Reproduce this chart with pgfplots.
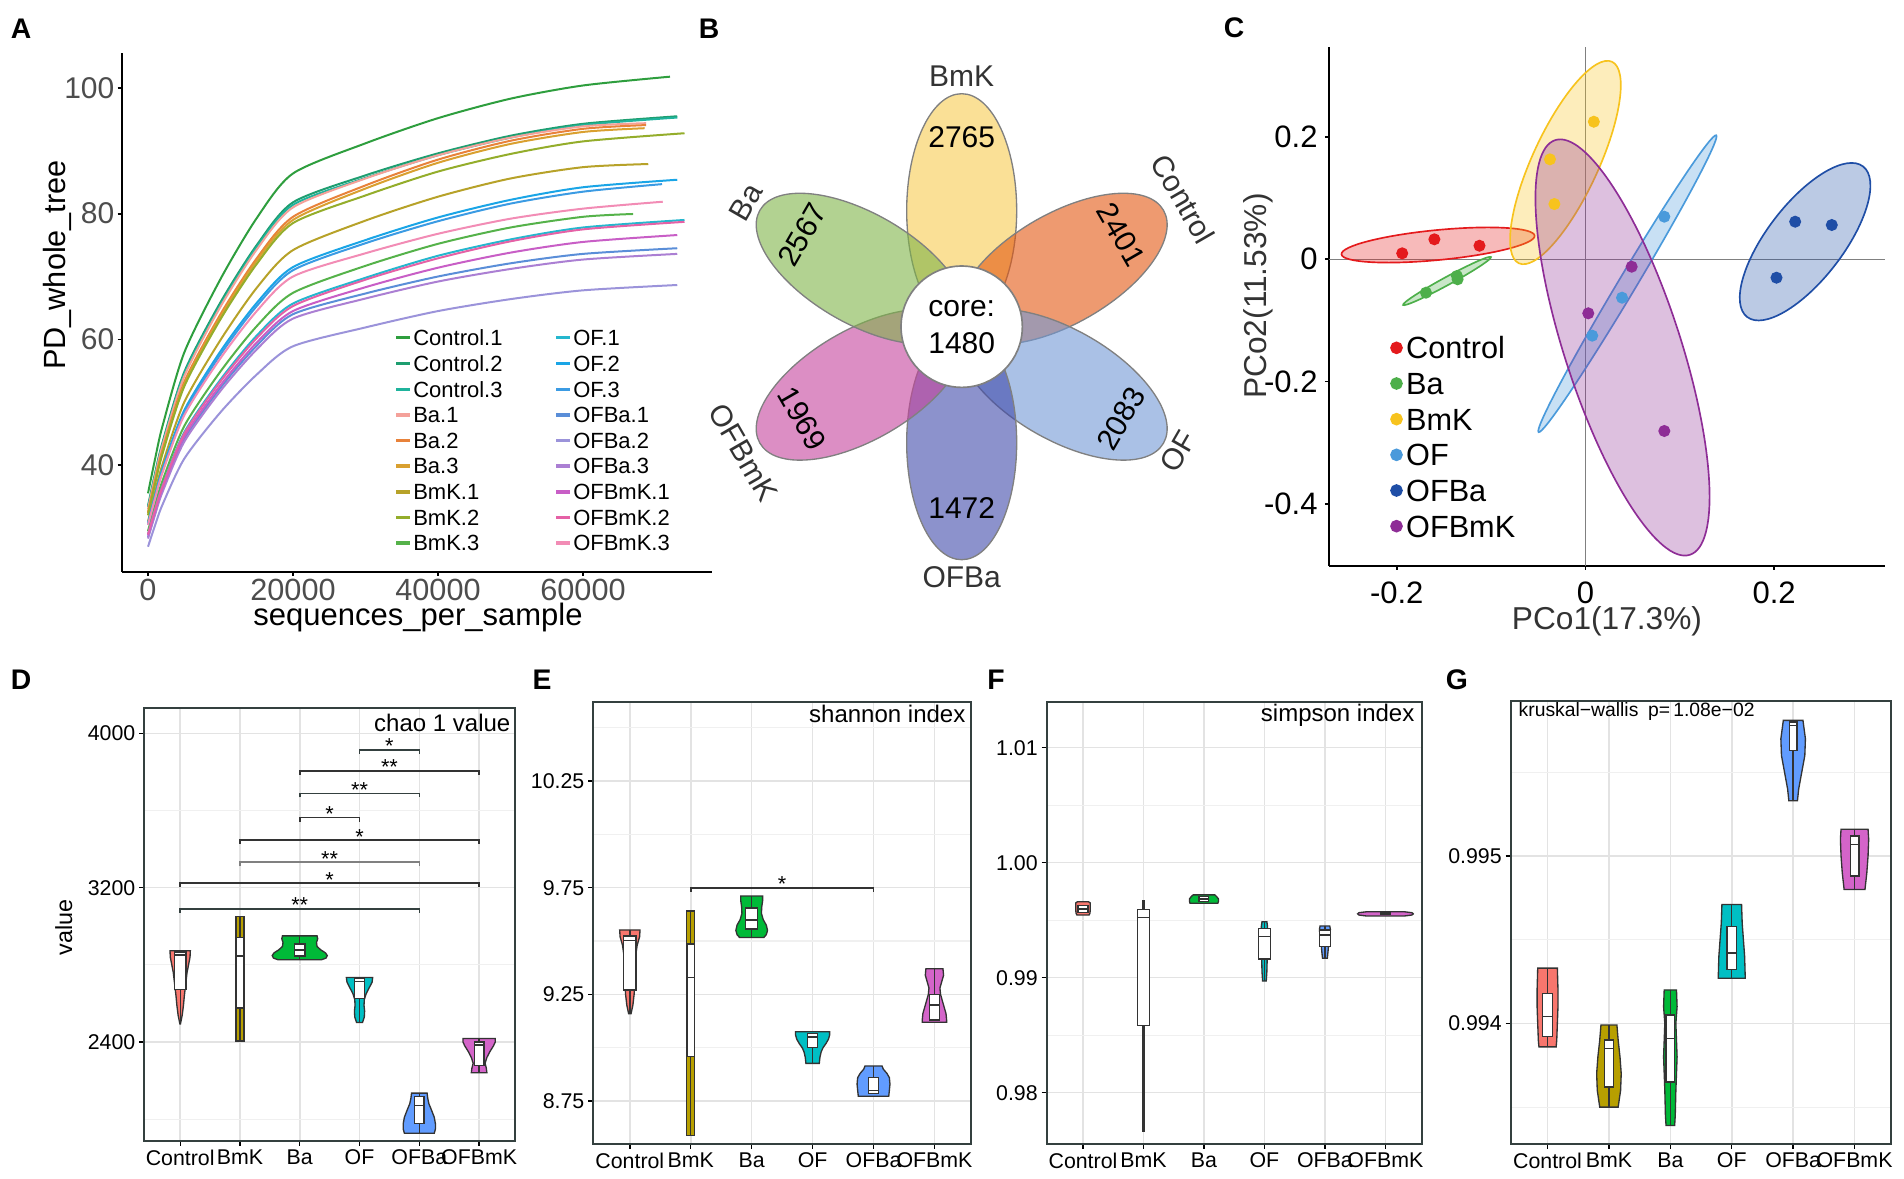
\documentclass[border=0pt]{standalone}
\usepackage{fontspec}
\setmainfont{Liberation Sans}
\usepackage{pgfplots}
\pgfplotsset{compat=1.18}
\newcommand\myfs[1]{\fontsize{#1}{#1}\selectfont}
% curve colours (panel A)
\definecolor{a1}{HTML}{2E9E3E}\definecolor{a2}{HTML}{1E9E70}\definecolor{a3}{HTML}{1FB39C}
\definecolor{a4}{HTML}{F4A19A}\definecolor{a5}{HTML}{E8823A}\definecolor{a6}{HTML}{D9A030}
\definecolor{a7}{HTML}{B7A229}\definecolor{a8}{HTML}{94AD2B}\definecolor{a9}{HTML}{55B24A}
\definecolor{a10}{HTML}{25B7CE}\definecolor{a11}{HTML}{1AA5E6}\definecolor{a12}{HTML}{3B9BE3}
\definecolor{a13}{HTML}{5A8ED8}\definecolor{a14}{HTML}{9B93DA}\definecolor{a15}{HTML}{AB7FD3}
\definecolor{a16}{HTML}{C85EC6}\definecolor{a17}{HTML}{E561A6}\definecolor{a18}{HTML}{F28CB5}
\definecolor{tickgray}{HTML}{4D4D4D}
% petals
\definecolor{pBmK}{HTML}{F7CB50}\definecolor{pCon}{HTML}{E35711}\definecolor{pOF}{HTML}{7198D5}
\definecolor{pOFBa}{HTML}{3F49AA}\definecolor{pOFBmK}{HTML}{C5439D}\definecolor{pBa}{HTML}{7FB448}
% PCoA
\definecolor{cCon}{HTML}{E41A1C}\definecolor{cBa}{HTML}{4DAF4A}\definecolor{cBmK}{HTML}{F7C31E}
\definecolor{cOF}{HTML}{4A9ADB}\definecolor{cOFBa}{HTML}{1F4EA6}\definecolor{cOFBmK}{HTML}{8E2D96}
% violins
\definecolor{vC}{HTML}{F8766D}\definecolor{vB}{HTML}{B79F00}\definecolor{vBa}{HTML}{00BA38}
\definecolor{vO}{HTML}{00BFC4}\definecolor{vOB}{HTML}{619CFF}\definecolor{vOM}{HTML}{D464C9}
\definecolor{frame}{HTML}{34403F}\definecolor{gmaj}{HTML}{E3E3E3}\definecolor{gmin}{HTML}{F0F0F0}
\definecolor{vline}{HTML}{333333}
\pgfplotsset{
  rc/.style={line width=0.6pt, smooth, tension=0.45, color=#1},
  vio/.style={anchor=south west, scale only axis, xmin=-0.6, xmax=5.6,
    xtick={0,1,2,3,4,5}, xticklabels={Control,BmK,Ba,OF,OFBa,OFBmK},
    tick pos=left, tick align=outside, major tick length=1.5pt, minor tick length=0pt,
    tick style={line width=0.4pt, color=black},
    axis line style={draw=frame, line width=0.55pt},
    xmajorgrids, ymajorgrids, yminorgrids,
    major grid style={draw=gmaj, line width=0.45pt}, minor grid style={draw=gmin, line width=0.35pt},
    tick label style={font=\myfs{6.4}, inner sep=1pt}, clip=false},
  vl/.style={draw=vline, line width=0.4pt, fill=#1},
  bx/.style={draw=vline, line width=0.4pt, fill=white},
  ln/.style={draw=vline, line width=0.4pt},
  brk/.style={draw=#1, line width=0.45pt},
  zl/.style={draw=gray, line width=0.45pt, forget plot},
  ptl/.style={only marks, mark=*, mark size=1.6pt, color=#1, legend image code/.code={\fill[##1] (-0.8pt,0pt) circle[radius=1.7pt];}},
}
\tikzset{star/.style={anchor=base, font=\myfs{6.5}, inner sep=0pt, yshift=-1.2pt}}
\begin{document}
\begin{tikzpicture}
\useasboundingbox (0,0) rectangle (571.2pt,353.7pt);
% ================= A =================
\begin{axis}[
  at={(36.51pt,182.1pt)}, anchor=south west, scale only axis,
  width=177pt, height=155.7pt,
  xmin=-3628, xmax=77752, ymin=22.98, ymax=105.57,
  axis x line*=bottom, axis y line*=left,
  axis line style={black, line width=0.6pt},
  scaled ticks=false,
  xtick={0,20000,40000,60000}, xticklabels={0,20000,40000,60000},
  ytick={40,60,80,100}, yticklabels={40,60,80,100},
  tick align=outside, major tick length=1.2pt, tick style={black, line width=0.5pt},
  tick label style={text=tickgray},
  xticklabel style={font=\myfs{9.2}, yshift=2.5pt},
  yticklabel style={font=\myfs{9}, inner sep=0.8pt},
  legend columns=9, transpose legend, legend cell align=left,
  legend style={at={(0.4615,0.4714)}, anchor=north west, draw=none, fill=none, inner sep=0pt,
    font=\myfs{6.6}, row sep=1.8pt, nodes={inner sep=0.6pt, text height=4.7pt, text depth=0pt},
    /tikz/every even column/.append style={column sep=15pt}},
  legend image code/.code={\draw[#1, line width=1pt] (0pt,0pt) -- (4pt,0pt);},
]
\addplot[rc=a1] coordinates {(0,35.5) (1000,41.1) (2000,46.2) (5000,57.9) (10000,69.6) (15000,79.3) (20000,86.4) (30000,91.2) (40000,95.2) (50000,98.3) (60000,100.4) (72000,101.8)};
\addlegendentry{Control.1}
\addplot[rc=a2] coordinates {(0,33.5) (1000,38.8) (2000,43.6) (5000,54.8) (10000,65.9) (15000,75.0) (20000,81.8) (30000,86.1) (40000,89.6) (50000,92.4) (60000,94.3) (73000,95.5)};
\addlegendentry{Control.2}
\addplot[rc=a3] coordinates {(0,33.3) (1000,38.6) (2000,43.4) (5000,54.5) (10000,65.5) (15000,74.7) (20000,81.4) (30000,85.7) (40000,89.3) (50000,92.1) (60000,94.1) (73000,95.3)};
\addlegendentry{Control.3}
\addplot[rc=a4] coordinates {(0,33.0) (1000,38.3) (2000,43.1) (5000,54.1) (10000,65.2) (15000,74.3) (20000,81.0) (30000,85.6) (40000,89.3) (50000,92.1) (60000,93.9) (68700,94.4)};
\addlegendentry{Ba.1}
\addplot[rc=a5] coordinates {(0,32.5) (1000,37.7) (2000,42.4) (5000,53.2) (10000,64.0) (15000,72.9) (20000,79.5) (30000,84.5) (40000,88.6) (50000,91.6) (60000,93.5) (68700,94.1)};
\addlegendentry{Ba.2}
\addplot[rc=a6] coordinates {(0,32.3) (1000,37.4) (2000,42.1) (5000,52.8) (10000,63.6) (15000,72.5) (20000,79.0) (30000,84.0) (40000,88.1) (50000,91.1) (60000,93.0) (68500,93.6)};
\addlegendentry{Ba.3}
\addplot[rc=a7] coordinates {(0,31.0) (1000,35.8) (2000,40.1) (5000,50.0) (10000,59.9) (15000,68.2) (20000,74.2) (30000,78.9) (40000,82.7) (50000,85.6) (60000,87.4) (69000,87.9)};
\addlegendentry{BmK.1}
\addplot[rc=a8] coordinates {(0,32.0) (1000,37.1) (2000,41.8) (5000,52.5) (10000,63.2) (15000,72.0) (20000,78.5) (30000,82.9) (40000,86.7) (50000,89.5) (60000,91.5) (74000,92.8)};
\addlegendentry{BmK.2}
\addplot[rc=a9] coordinates {(0,29.5) (1000,33.7) (2000,37.5) (5000,46.2) (10000,54.9) (15000,62.1) (20000,67.4) (30000,71.7) (40000,75.2) (50000,77.8) (60000,79.5) (66900,79.95)};
\addlegendentry{BmK.3}
\addplot[rc=a10] coordinates {(0,29.0) (1000,33.0) (2000,36.7) (5000,45.2) (10000,53.6) (15000,60.6) (20000,65.7) (30000,69.8) (40000,73.3) (50000,75.9) (60000,77.8) (74000,79.0)};
\addlegendentry{OF.1}
\addplot[rc=a11] coordinates {(0,30.8) (1000,35.3) (2000,39.4) (5000,48.7) (10000,58.1) (15000,65.8) (20000,71.5) (30000,75.8) (40000,79.4) (50000,82.2) (60000,84.2) (73000,85.4)};
\addlegendentry{OF.2}
\addplot[rc=a12] coordinates {(0,30.5) (1000,35.0) (2000,39.0) (5000,48.3) (10000,57.6) (15000,65.3) (20000,71.0) (30000,75.3) (40000,78.8) (50000,81.6) (60000,83.5) (70900,84.7)};
\addlegendentry{OF.3}
\addplot[rc=a13] coordinates {(0,28.5) (1000,32.4) (2000,36.0) (5000,44.1) (10000,52.3) (15000,59.0) (20000,64.0) (30000,67.3) (40000,70.0) (50000,72.1) (60000,73.6) (73000,74.5)};
\addlegendentry{OFBa.1}
\addplot[rc=a14] coordinates {(0,27.0) (1000,30.5) (2000,33.7) (5000,41.0) (10000,48.4) (15000,54.4) (20000,58.9) (30000,61.9) (40000,64.5) (50000,66.4) (60000,67.8) (73000,68.65)};
\addlegendentry{OFBa.2}
\addplot[rc=a15] coordinates {(0,28.3) (1000,32.2) (2000,35.7) (5000,43.7) (10000,51.8) (15000,58.4) (20000,63.3) (30000,66.5) (40000,69.2) (50000,71.2) (60000,72.7) (73000,73.6)};
\addlegendentry{OFBa.3}
\addplot[rc=a16] coordinates {(0,28.8) (1000,32.7) (2000,36.3) (5000,44.5) (10000,52.7) (15000,59.5) (20000,64.5) (30000,68.3) (40000,71.4) (50000,73.8) (60000,75.5) (73000,76.6)};
\addlegendentry{OFBmK.1}
\addplot[rc=a17] coordinates {(0,29.0) (1000,33.0) (2000,36.6) (5000,45.0) (10000,53.3) (15000,60.2) (20000,65.3) (30000,69.5) (40000,72.9) (50000,75.6) (60000,77.5) (74000,78.7)};
\addlegendentry{OFBmK.2}
\addplot[rc=a18] coordinates {(0,30.5) (1000,34.8) (2000,38.8) (5000,47.9) (10000,57.0) (15000,64.5) (20000,70.0) (30000,73.7) (40000,76.8) (50000,79.2) (60000,80.8) (71000,81.9)};
\addlegendentry{OFBmK.3}
\end{axis}
\node[rotate=90, anchor=base, font=\myfs{9.2}] at (19.5pt,274.2pt) {PD\_whole\_tree};
\node[anchor=base, font=\myfs{9.3}] at (125.4pt,165.9pt) {sequences\_per\_sample};
% ================= B =================
\begin{axis}[at={(204.51pt,165.69pt)}, anchor=south west, scale only axis, width=168pt, height=180pt,
  xmin=-280, xmax=280, ymin=-300, ymax=300, hide axis, xtick=\empty, ytick=\empty, clip=false]
\filldraw[fill=pBmK, fill opacity=0.6, draw=gray, line width=0.4pt, rotate around={90:(axis cs:0,0)}] (axis cs:116,0) ellipse [x radius=35.1pt, y radius=16.5pt];
\filldraw[fill=pCon, fill opacity=0.6, draw=gray, line width=0.4pt, rotate around={30:(axis cs:0,0)}] (axis cs:116,0) ellipse [x radius=35.1pt, y radius=16.5pt];
\filldraw[fill=pOF, fill opacity=0.6, draw=gray, line width=0.4pt, rotate around={-30:(axis cs:0,0)}] (axis cs:116,0) ellipse [x radius=35.1pt, y radius=16.5pt];
\filldraw[fill=pOFBa, fill opacity=0.6, draw=gray, line width=0.4pt, rotate around={-90:(axis cs:0,0)}] (axis cs:116,0) ellipse [x radius=35.1pt, y radius=16.5pt];
\filldraw[fill=pOFBmK, fill opacity=0.6, draw=gray, line width=0.4pt, rotate around={210:(axis cs:0,0)}] (axis cs:116,0) ellipse [x radius=35.1pt, y radius=16.5pt];
\filldraw[fill=pBa, fill opacity=0.6, draw=gray, line width=0.4pt, rotate around={150:(axis cs:0,0)}] (axis cs:116,0) ellipse [x radius=35.1pt, y radius=16.5pt];
\filldraw[fill=white, draw=gray, line width=0.5pt] (axis cs:0,0) circle [radius=18.2pt];
\node[font=\myfs{9}] at (axis cs:0,18) {core:};
\node[font=\myfs{9}] at (axis cs:0,-16) {1480};
\node[font=\myfs{9}] at (axis cs:0,190) {2765};
\node[font=\myfs{9}, rotate=-60] at (axis cs:159.3,92) {2401};
\node[font=\myfs{9}, rotate=60] at (axis cs:159.3,-92) {2083};
\node[font=\myfs{9}] at (axis cs:0,-181) {1472};
\node[font=\myfs{9}, rotate=-60] at (axis cs:-159.3,-92) {1969};
\node[font=\myfs{9}, rotate=60] at (axis cs:-159.3,92) {2567};
\node[font=\myfs{9}, text=vline] at (axis cs:0,251) {BmK};
\node[font=\myfs{9}, text=vline, rotate=-60] at (axis cs:221.7,128) {Control};
\node[font=\myfs{9}, text=vline, rotate=60] at (axis cs:216.5,-125) {OF};
\node[font=\myfs{9}, text=vline] at (axis cs:0,-250) {OFBa};
\node[font=\myfs{9}, text=vline, rotate=-60] at (axis cs:-218.2,-126) {OFBmK};
\node[font=\myfs{9}, text=vline, rotate=60] at (axis cs:-215.6,124.5) {Ba};
\end{axis}
% ================= C =================
\begin{axis}[at={(398.67pt,183.9pt)}, anchor=south west, scale only axis, width=166.83pt, height=155.79pt,
  xmin=-0.2719, xmax=0.3175, ymin=-0.5016, ymax=0.3477,
  axis x line*=bottom, axis y line*=left, axis line style={black, line width=0.6pt},
  xtick={-0.2,0,0.2}, xticklabels={-0.2,0,0.2}, ytick={-0.4,-0.2,0,0.2}, yticklabels={-0.4,-0.2,0,0.2},
  tick align=outside, major tick length=1.2pt, tick style={black, line width=0.5pt},
  tick label style={font=\myfs{9.3}}, yticklabel style={inner sep=2pt}, clip=false,
  legend cell align=left,
  legend style={at={(0.109,0.449)}, anchor=north west, draw=none, fill=none, inner sep=0pt,
    font=\myfs{9.2}, row sep=2.1pt, nodes={inner sep=1pt, text height=6.6pt, text depth=0pt}},
]
\addplot[zl] coordinates {(-0.2719,0) (0.3175,0)};
\addplot[zl] coordinates {(0,-0.5016) (0,0.3477)};
\filldraw[draw=cCon, fill=cCon, fill opacity=0.3, line width=0.5pt, rotate around={5.5:(axis cs:-0.1562,0.0234)}] (axis cs:-0.1562,0.0234) ellipse [x radius=29.1pt, y radius=4.5pt];
\filldraw[draw=cBa, fill=cBa, fill opacity=0.3, line width=0.5pt, rotate around={28.6:(axis cs:-0.1467,-0.0355)}] (axis cs:-0.1467,-0.0355) ellipse [x radius=15pt, y radius=1.2pt];
\filldraw[draw=cBmK, fill=cBmK, fill opacity=0.3, line width=0.5pt, rotate around={65.2:(axis cs:-0.0212,0.1583)}] (axis cs:-0.0212,0.1583) ellipse [x radius=33.3pt, y radius=9.9pt];
\filldraw[draw=cOF, fill=cOF, fill opacity=0.3, line width=0.5pt, rotate around={59.1:(axis cs:0.0445,-0.0399)}] (axis cs:0.0445,-0.0399) ellipse [x radius=51.9pt, y radius=2.7pt];
\filldraw[draw=cOFBa, fill=cOFBa, fill opacity=0.3, line width=0.5pt, rotate around={52.4:(axis cs:0.2328,0.0288)}] (axis cs:0.2328,0.0288) ellipse [x radius=28.5pt, y radius=11.4pt];
\filldraw[draw=cOFBmK, fill=cOFBmK, fill opacity=0.3, line width=0.5pt, rotate around={108:(axis cs:0.0393,-0.1442)}] (axis cs:0.0393,-0.1442) ellipse [x radius=65.4pt, y radius=17.4pt];
\addplot[ptl=cCon] coordinates {(-0.1942,0.0098) (-0.1601,0.0327) (-0.1123,0.0222)};
\addlegendentry{Control}
\addplot[ptl=cBa] coordinates {(-0.169,-0.0546) (-0.1362,-0.0273) (-0.1355,-0.0327)};
\addlegendentry{Ba}
\addplot[ptl=cBmK] coordinates {(0.0089,0.225) (-0.0376,0.1635) (-0.0329,0.0904)};
\addlegendentry{BmK}
\addplot[ptl=cOF] coordinates {(0.0836,0.0697) (0.0388,-0.0628) (0.0072,-0.1249)};
\addlegendentry{OF}
\addplot[ptl=cOFBa] coordinates {(0.2223,0.0615) (0.2611,0.0561) (0.2025,-0.0301)};
\addlegendentry{OFBa}
\addplot[ptl=cOFBmK] coordinates {(0.049,-0.0121) (0.003,-0.0883) (0.0836,-0.2808)};
\addlegendentry{OFBmK}
\end{axis}
\node[rotate=90, anchor=base, font=\myfs{9.5}, text=vline] at (380pt,264.9pt) {PCo2(11.53\%)};
\node[anchor=base, font=\myfs{9.5}, text=vline] at (482.1pt,164.7pt) {PCo1(17.3\%)};
% ================= D =================
\begin{axis}[vio, at={(43.29pt,11.4pt)}, width=111.21pt, height=129.81pt, ymin=1887, ymax=4129.6,
  ytick={2400,3200,4000}, yticklabels={2400,3200,4000}, minor ytick={2000,2800,3600}]
\addplot[vl=vC] coordinates {(0.17,2873) (0.165,2840) (0.14,2800) (0.115,2760) (0.1,2720) (0.085,2680) (0.07,2640) (0.055,2590) (0.035,2540) (0.005,2494) (-0.005,2494) (-0.035,2540) (-0.055,2590) (-0.07,2640) (-0.085,2680) (-0.1,2720) (-0.115,2760) (-0.14,2800) (-0.165,2840) (-0.17,2873)} -- cycle;
\addplot[vl=vB] coordinates {(1.065,3049) (1.065,2406) (0.935,2406) (0.935,3049)} -- cycle;
\addplot[vl=vBa] coordinates {(2.29,2950) (2.3,2935) (2.28,2915) (2.29,2895) (2.35,2878) (2.43,2862) (2.46,2848) (2.44,2835) (2.36,2826) (1.64,2826) (1.56,2835) (1.54,2848) (1.57,2862) (1.65,2878) (1.71,2895) (1.72,2915) (1.7,2935) (1.71,2950)} -- cycle;
\addplot[vl=vO] coordinates {(3.22,2734) (3.21,2710) (3.16,2680) (3.11,2650) (3.08,2620) (3.075,2590) (3.085,2560) (3.08,2530) (3.05,2501) (2.95,2501) (2.92,2530) (2.915,2560) (2.925,2590) (2.92,2620) (2.89,2650) (2.84,2680) (2.79,2710) (2.78,2734)} -- cycle;
\addplot[vl=vOB] coordinates {(4.13,2135) (4.14,2110) (4.16,2080) (4.2,2050) (4.25,2010) (4.27,1975) (4.27,1950) (4.25,1927) (3.75,1927) (3.73,1950) (3.73,1975) (3.75,2010) (3.8,2050) (3.84,2080) (3.86,2110) (3.87,2135)} -- cycle;
\addplot[vl=vOM] coordinates {(5.27,2418) (5.27,2400) (5.24,2380) (5.18,2350) (5.13,2320) (5.1,2290) (5.12,2265) (5.13,2241) (4.87,2241) (4.88,2265) (4.9,2290) (4.87,2320) (4.82,2350) (4.76,2380) (4.73,2400) (4.73,2418)} -- cycle;
% boxes
\addplot[bx] coordinates {(-0.1,2671) (0.1,2671) (0.1,2866) (-0.1,2866)} -- cycle;
\addplot[ln] coordinates {(-0.1,2851) (0.1,2851)};
\addplot[ln] coordinates {(0,2866) (0,2873)};\addplot[ln] coordinates {(0,2671) (0,2494)};
\addplot[bx] coordinates {(0.94,2577) (1.06,2577) (1.06,2943) (0.94,2943)} -- cycle;
\addplot[ln] coordinates {(0.94,2846) (1.06,2846)};
\addplot[ln] coordinates {(1,2943) (1,3049)};\addplot[ln] coordinates {(1,2577) (1,2406)};
\addplot[ln] coordinates {(2,2950) (2,2826)};
\addplot[bx] coordinates {(1.91,2846) (2.09,2846) (2.09,2908) (1.91,2908)} -- cycle;
\addplot[ln] coordinates {(1.91,2877) (2.09,2877)};
\addplot[bx] coordinates {(2.92,2627) (3.08,2627) (3.08,2728) (2.92,2728)} -- cycle;
\addplot[ln] coordinates {(2.92,2715) (3.08,2715)};
\addplot[ln] coordinates {(3,2728) (3,2734)};\addplot[ln] coordinates {(3,2627) (3,2501)};
\addplot[bx] coordinates {(3.92,1978) (4.08,1978) (4.08,2116) (3.92,2116)} -- cycle;
\addplot[ln] coordinates {(3.92,2072) (4.08,2072)};
\addplot[ln] coordinates {(4,2116) (4,2135)};\addplot[ln] coordinates {(4,1978) (4,1927)};
\addplot[bx] coordinates {(4.92,2280) (5.08,2280) (5.08,2400) (4.92,2400)} -- cycle;
\addplot[ln] coordinates {(4.92,2385) (5.08,2385)};
\addplot[ln] coordinates {(5,2400) (5,2418)};\addplot[ln] coordinates {(5,2280) (5,2241)};
% significance brackets
\addplot[brk=frame] coordinates {(3,3893.3) (3,3914) (4,3914) (4,3893.3)};
\addplot[brk=vline] coordinates {(2,3784.3) (2,3805) (5,3805) (5,3784.3)};
\addplot[brk=frame] coordinates {(2,3668.3) (2,3689) (4,3689) (4,3668.3)};
\addplot[brk=vline] coordinates {(2,3542.3) (2,3563) (3,3563) (3,3542.3)};
\addplot[brk=vline] coordinates {(1,3426.3) (1,3447) (5,3447) (5,3426.3)};
\addplot[brk=gray] coordinates {(1,3311.3) (1,3332) (4,3332) (4,3311.3)};
\addplot[brk=vline] coordinates {(0,3202.3) (0,3223) (5,3223) (5,3202.3)};
\addplot[brk=frame] coordinates {(0,3069.3) (0,3090) (4,3090) (4,3069.3)};
\node[star] at (axis cs:3.5,3914) {*};
\node[star] at (axis cs:3.5,3805) {**};
\node[star] at (axis cs:3,3689) {**};
\node[star] at (axis cs:2.5,3563) {*};
\node[star] at (axis cs:3,3447) {*};
\node[star] at (axis cs:2.5,3332) {**};
\node[star] at (axis cs:2.5,3223) {*};
\node[star] at (axis cs:2,3090) {**};
\end{axis}
\node[rotate=90, anchor=base, font=\myfs{7}] at (21.6pt,75.45pt) {value};
\node[anchor=east, font=\myfs{7.2}, inner sep=0pt] at (153.3pt,136.89pt) {chao 1 value};
% ================= E =================
\begin{axis}[vio, at={(177.99pt,10.62pt)}, width=113.31pt, height=132.39pt, ymin=8.551, ymax=10.619,
  ytick={8.75,9.25,9.75,10.25}, yticklabels={8.75,9.25,9.75,10.25}, minor ytick={9,9.5,10,10.5}]
\addplot[vl=vC] coordinates {(0.167,9.552) (0.16,9.52) (0.12,9.48) (0.1,9.44) (0.09,9.4) (0.085,9.35) (0.08,9.3) (0.07,9.25) (0.05,9.2) (0.02,9.16) (-0.02,9.16) (-0.05,9.2) (-0.07,9.25) (-0.08,9.3) (-0.085,9.35) (-0.09,9.4) (-0.1,9.44) (-0.12,9.48) (-0.16,9.52) (-0.167,9.552)} -- cycle;
\addplot[vl=vB] coordinates {(1.065,9.641) (1.065,8.59) (0.935,8.59) (0.935,9.641)} -- cycle;
\addplot[vl=vBa] coordinates {(2.18,9.711) (2.18,9.69) (2.165,9.66) (2.16,9.63) (2.19,9.6) (2.24,9.575) (2.26,9.55) (2.24,9.53) (2.2,9.517) (1.8,9.517) (1.76,9.53) (1.74,9.55) (1.76,9.575) (1.81,9.6) (1.84,9.63) (1.835,9.66) (1.82,9.69) (1.82,9.711)} -- cycle;
\addplot[vl=vO] coordinates {(3.28,9.075) (3.28,9.06) (3.26,9.04) (3.22,9.02) (3.17,9.0) (3.14,8.98) (3.12,8.955) (3.11,8.927) (2.89,8.927) (2.88,8.955) (2.86,8.98) (2.83,9.0) (2.78,9.02) (2.74,9.04) (2.72,9.06) (2.72,9.075)} -- cycle;
\addplot[vl=vOB] coordinates {(4.14,8.915) (4.16,8.9) (4.22,8.88) (4.26,8.86) (4.27,8.83) (4.26,8.8) (4.25,8.773) (3.75,8.773) (3.74,8.8) (3.73,8.83) (3.74,8.86) (3.78,8.88) (3.84,8.9) (3.86,8.915)} -- cycle;
\addplot[vl=vOM] coordinates {(5.14,9.37) (5.15,9.34) (5.12,9.31) (5.09,9.28) (5.1,9.25) (5.15,9.2) (5.19,9.16) (5.2,9.13) (5.2,9.12) (4.8,9.12) (4.8,9.13) (4.81,9.16) (4.85,9.2) (4.9,9.25) (4.91,9.28) (4.88,9.31) (4.85,9.34) (4.86,9.37)} -- cycle;
\addplot[bx] coordinates {(-0.1,9.27) (0.1,9.27) (0.1,9.524) (-0.1,9.524)} -- cycle;
\addplot[ln] coordinates {(-0.1,9.502) (0.1,9.502)};
\addplot[ln] coordinates {(0,9.524) (0,9.552)};\addplot[ln] coordinates {(0,9.27) (0,9.16)};
\addplot[bx] coordinates {(0.94,8.96) (1.06,8.96) (1.06,9.486) (0.94,9.486)} -- cycle;
\addplot[ln] coordinates {(0.94,9.33) (1.06,9.33)};
\addplot[ln] coordinates {(1,9.486) (1,9.641)};\addplot[ln] coordinates {(1,8.96) (1,8.59)};
\addplot[ln] coordinates {(2,9.711) (2,9.517)};
\addplot[bx] coordinates {(1.9,9.556) (2.1,9.556) (2.1,9.655) (1.9,9.655)} -- cycle;
\addplot[ln] coordinates {(1.9,9.599) (2.1,9.599)};
\addplot[bx] coordinates {(2.92,9.0) (3.08,9.0) (3.08,9.068) (2.92,9.068)} -- cycle;
\addplot[ln] coordinates {(2.92,9.05) (3.08,9.05)};
\addplot[ln] coordinates {(3,9.0) (3,8.927)};
\addplot[bx] coordinates {(3.92,8.785) (4.08,8.785) (4.08,8.86) (3.92,8.86)} -- cycle;
\addplot[ln] coordinates {(3.92,8.8) (4.08,8.8)};
\addplot[ln] coordinates {(4,8.86) (4,8.915)};
\addplot[bx] coordinates {(4.92,9.13) (5.08,9.13) (5.08,9.25) (4.92,9.25)} -- cycle;
\addplot[ln] coordinates {(4.92,9.2) (5.08,9.2)};
\addplot[ln] coordinates {(5,9.25) (5,9.37)};
\addplot[brk=vline] coordinates {(1,9.7303) (1,9.749) (4,9.749) (4,9.7303)};
\node[star] at (axis cs:2.5,9.749) {*};
\end{axis}
\node[anchor=east, font=\myfs{7.2}, inner sep=0pt] at (289.8pt,139.5pt) {shannon index};
% ================= F =================
\begin{axis}[vio, at={(314.01pt,10.62pt)}, width=112.5pt, height=132.39pt, ymin=0.97557, ymax=1.01395,
  ytick={0.98,0.99,1.00,1.01}, yticklabels={0.98,0.99,1.00,1.01}, minor ytick={0.985,0.995,1.005}]
\addplot[vl=vC] coordinates {(0.09,0.99661) (0.12,0.9965) (0.12,0.9959) (0.115,0.9956) (0.1,0.99545) (-0.1,0.99545) (-0.115,0.9956) (-0.12,0.9959) (-0.12,0.9965) (-0.09,0.99661)} -- cycle;
\addplot[vl=vB] coordinates {(1.015,0.99667) (1.015,0.97663) (0.985,0.97663) (0.985,0.99667)} -- cycle;
\addplot[vl=vBa] coordinates {(2.18,0.9972) (2.21,0.99705) (2.24,0.99685) (2.24,0.99665) (2.23,0.99647) (1.77,0.99647) (1.76,0.99665) (1.76,0.99685) (1.79,0.99705) (1.82,0.9972)} -- cycle;
\addplot[vl=vO] coordinates {(3.04,0.99487) (3.05,0.9945) (3.05,0.9925) (3.04,0.9905) (3.03,0.98971) (2.97,0.98971) (2.96,0.9905) (2.95,0.9925) (2.95,0.9945) (2.96,0.99487)} -- cycle;
\addplot[vl=vOB] coordinates {(4.08,0.9945) (4.09,0.9942) (4.08,0.9935) (4.06,0.9928) (4.05,0.9922) (4.04,0.99169) (3.96,0.99169) (3.95,0.9922) (3.94,0.9928) (3.92,0.9935) (3.91,0.9942) (3.92,0.9945)} -- cycle;
\addplot[vl=vOM] coordinates {(5.3,0.99574) (5.44,0.99565) (5.46,0.99555) (5.44,0.99545) (5.32,0.99537) (4.68,0.99537) (4.56,0.99545) (4.54,0.99555) (4.56,0.99565) (4.7,0.99574)} -- cycle;
\addplot[bx] coordinates {(-0.08,0.99565) (0.08,0.99565) (0.08,0.99628) (-0.08,0.99628)} -- cycle;
\addplot[ln] coordinates {(-0.08,0.99598) (0.08,0.99598)};
\addplot[bx] coordinates {(0.9,0.98582) (1.1,0.98582) (1.1,0.99595) (0.9,0.99595)} -- cycle;
\addplot[ln] coordinates {(0.9,0.99525) (1.1,0.99525)};
\addplot[ln] coordinates {(1,0.99595) (1,0.99667)};\addplot[ln] coordinates {(1,0.98582) (1,0.97663)};
\addplot[bx] coordinates {(1.92,0.99665) (2.08,0.99665) (2.08,0.99705) (1.92,0.99705)} -- cycle;
\addplot[ln] coordinates {(1.92,0.99685) (2.08,0.99685)};
\addplot[bx] coordinates {(2.9,0.99163) (3.1,0.99163) (3.1,0.9943) (2.9,0.9943)} -- cycle;
\addplot[ln] coordinates {(2.9,0.99357) (3.1,0.99357)};
\addplot[ln] coordinates {(3,0.9943) (3,0.99487)};\addplot[ln] coordinates {(3,0.99163) (3,0.98971)};
\addplot[bx] coordinates {(3.91,0.9927) (4.09,0.9927) (4.09,0.99415) (3.91,0.99415)} -- cycle;
\addplot[ln] coordinates {(3.91,0.99372) (4.09,0.99372)};
\addplot[ln] coordinates {(4,0.99415) (4,0.9945)};\addplot[ln] coordinates {(4,0.9927) (4,0.99169)};
\addplot[bx] coordinates {(4.92,0.99548) (5.08,0.99548) (5.08,0.99562) (4.92,0.99562)} -- cycle;
\addplot[ln] coordinates {(4.92,0.99555) (5.08,0.99555)};
\end{axis}
\node[anchor=east, font=\myfs{7.2}, inner sep=0pt] at (424.5pt,139.2pt) {simpson index};
% ================= G =================
\begin{axis}[vio, at={(453.21pt,10.62pt)}, width=114.21pt, height=132.78pt, ymin=0.993282, ymax=0.995926,
  ytick={0.994,0.995}, yticklabels={0.994,0.995}, minor ytick={0.9935,0.9945,0.9955}]
\addplot[vl=vC] coordinates {(0.16,0.99433) (0.17,0.9942) (0.17,0.9941) (0.16,0.994) (0.15,0.9939) (0.14,0.99386) (-0.14,0.99386) (-0.15,0.9939) (-0.16,0.994) (-0.17,0.9941) (-0.17,0.9942) (-0.16,0.99433)} -- cycle;
\addplot[vl=vB] coordinates {(1.13,0.99399) (1.15,0.9939) (1.18,0.9938) (1.2,0.9937) (1.19,0.9936) (1.15,0.9935) (0.85,0.9935) (0.81,0.9936) (0.8,0.9937) (0.82,0.9938) (0.85,0.9939) (0.87,0.99399)} -- cycle;
\addplot[vl=vBa] coordinates {(2.1,0.9942) (2.11,0.9941) (2.09,0.994) (2.1,0.9939) (2.11,0.9938) (2.1,0.9937) (2.09,0.9936) (2.08,0.99345) (2.07,0.99339) (1.93,0.99339) (1.92,0.99345) (1.91,0.9936) (1.9,0.9937) (1.89,0.9938) (1.9,0.9939) (1.91,0.994) (1.89,0.9941) (1.9,0.9942)} -- cycle;
\addplot[vl=vO] coordinates {(3.16,0.99471) (3.17,0.9946) (3.19,0.9945) (3.21,0.9944) (3.22,0.99427) (2.78,0.99427) (2.79,0.9944) (2.81,0.9945) (2.83,0.9946) (2.84,0.99471)} -- cycle;
\addplot[vl=vOB] coordinates {(4.16,0.99581) (4.2,0.9957) (4.19,0.9956) (4.14,0.9955) (4.09,0.9954) (4.07,0.99533) (3.93,0.99533) (3.91,0.9954) (3.86,0.9955) (3.81,0.9956) (3.8,0.9957) (3.84,0.99581)} -- cycle;
\addplot[vl=vOM] coordinates {(5.22,0.99516) (5.23,0.9951) (5.22,0.995) (5.2,0.9949) (5.17,0.9948) (4.83,0.9948) (4.8,0.9949) (4.78,0.995) (4.77,0.9951) (4.78,0.99516)} -- cycle;
\addplot[ln] coordinates {(0,0.99433) (0,0.99386)};
\addplot[bx] coordinates {(-0.08,0.99392) (0.08,0.99392) (0.08,0.99418) (-0.08,0.99418)} -- cycle;
\addplot[ln] coordinates {(-0.08,0.99404) (0.08,0.99404)};
\addplot[ln] coordinates {(1,0.99399) (1,0.9935)};
\addplot[bx] coordinates {(0.93,0.99362) (1.07,0.99362) (1.07,0.9939) (0.93,0.9939)} -- cycle;
\addplot[ln] coordinates {(0.93,0.99385) (1.07,0.99385)};
\addplot[ln] coordinates {(2,0.9942) (2,0.99339)};
\addplot[bx] coordinates {(1.93,0.99365) (2.07,0.99365) (2.07,0.99405) (1.93,0.99405)} -- cycle;
\addplot[ln] coordinates {(1.93,0.99391) (2.07,0.99391)};
\addplot[ln] coordinates {(3,0.99471) (3,0.99427)};
\addplot[bx] coordinates {(2.92,0.99432) (3.08,0.99432) (3.08,0.99458) (2.92,0.99458)} -- cycle;
\addplot[ln] coordinates {(2.92,0.99442) (3.08,0.99442)};
\addplot[ln] coordinates {(4,0.99581) (4,0.99533)};
\addplot[bx] coordinates {(3.94,0.99563) (4.06,0.99563) (4.06,0.9958) (3.94,0.9958)} -- cycle;
\addplot[ln] coordinates {(3.94,0.99578) (4.06,0.99578)};
\addplot[ln] coordinates {(5,0.99516) (5,0.9948)};
\addplot[bx] coordinates {(4.93,0.99488) (5.07,0.99488) (5.07,0.99512) (4.93,0.99512)} -- cycle;
\addplot[ln] coordinates {(4.93,0.99507) (5.07,0.99507)};
\end{axis}
\node[anchor=west, font=\myfs{5.8}, inner sep=0pt] at (455.4pt,140.2pt) {kruskal−wallis\enspace p=\,1.08e−02};
% ================= panel letters =================
\node[font=\bfseries\myfs{8.5}] at (6.3pt,345pt) {A};
\node[font=\bfseries\myfs{8.5}] at (212.7pt,345pt) {B};
\node[font=\bfseries\myfs{8.5}] at (370.2pt,345.3pt) {C};
\node[font=\bfseries\myfs{8.5}] at (6.3pt,149.7pt) {D};
\node[font=\bfseries\myfs{8.5}] at (162.6pt,149.7pt) {E};
\node[font=\bfseries\myfs{8.5}] at (298.8pt,149.7pt) {F};
\node[font=\bfseries\myfs{8.5}] at (437.1pt,149.7pt) {G};
\end{tikzpicture}
\end{document}
